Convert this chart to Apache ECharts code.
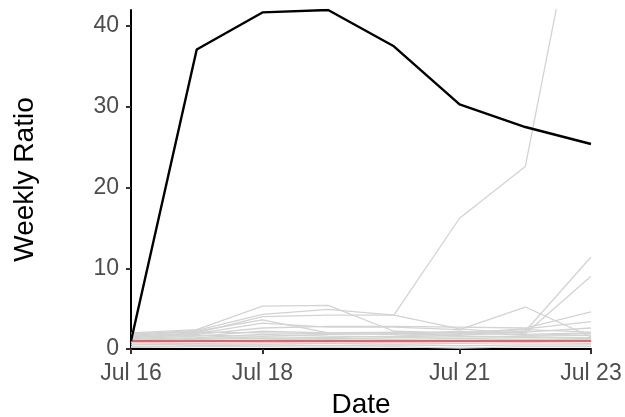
<!DOCTYPE html>
<html>
<head>
<meta charset="utf-8">
<script src="https://cdn.jsdelivr.net/npm/echarts@6/dist/echarts.min.js"></script>
<style>
  html, body { margin: 0; padding: 0; background: #fff; }
  #chart { width: 625px; height: 417px; }
</style>
</head>
<body>
<div id="chart"></div>
<script>
// dates on the x axis (one point per day)
var dates = ['Jul 16', 'Jul 17', 'Jul 18', 'Jul 19', 'Jul 20', 'Jul 21', 'Jul 22', 'Jul 23']
var shownDates = [0, 2, 5, 7]
var yTicks = [0, 10, 20, 30, 40]
var threshold = 1

// highlighted series
var mainValues = [1.0, 37.1, 41.7, 42.0, 37.5, 30.3, 27.5, 25.4]

// background series (light grey)
var grey1 = [1.8, 2.3, 4.3, 4.9, 4.2, 16.2, 22.6, 64.0]
var grey2 = [2.0, 2.4, 5.3, 5.4, 2.2, 2.0, 2.4, 2.1]
var grey3 = [1.7, 2.2, 3.6, 2.0, 2.0, 1.8, 2.2, 11.4]
var grey4 = [1.6, 2.0, 4.0, 4.2, 4.2, 2.5, 1.9, 9.0]
var grey5 = [1.5, 1.9, 3.2, 2.7, 2.7, 2.4, 5.2, 1.5]
var grey6 = [1.4, 1.8, 2.6, 2.8, 2.8, 2.7, 2.6, 4.6]
var grey7 = [1.3, 1.6, 2.2, 2.0, 2.1, 2.0, 2.5, 3.4]
var grey8 = [1.2, 1.4, 1.8, 1.6, 1.5, 1.7, 2.1, 2.6]
var grey9 = [1.1, 1.3, 1.5, 1.4, 1.6, 1.9, 1.8, 2.0]
var grey10 = [1.0, 1.2, 1.3, 1.2, 1.4, 1.5, 1.6, 1.7]
var grey11 = [0.9, 1.0, 1.1, 1.3, 1.2, 1.3, 1.4, 1.4]
var grey12 = [0.8, 0.9, 1.0, 1.0, 1.0, 1.1, 1.2, 1.2]
var grey13 = [0.6, 0.7, 0.8, 0.9, 0.8, 0.9, 1.0, 1.0]
var grey14 = [0.5, 0.6, 0.6, 0.7, 0.6, 0.7, 0.8, 0.7]
var grey15 = [0.3, 0.4, 0.5, 0.4, 0.5, 0.4, 0.5, 0.5]
var grey16 = [0.2, 0.3, 0.3, 0.2, 0.3, 0.1, 0.3, 0.3]
var grey17 = [1.9, 2.1, 2.0, 1.9, 1.8, 2.2, 1.7, 1.9]
var grey18 = [1.5, 1.7, 1.6, 1.8, 1.9, 1.6, 1.5, 1.3]

var greyList = [grey1, grey2, grey3, grey4, grey5, grey6, grey7, grey8, grey9,
  grey10, grey11, grey12, grey13, grey14, grey15, grey16, grey17, grey18]

var series = greyList.map(function (d) {
  return {
    type: 'line',
    data: d,
    symbol: 'none',
    silent: true,
    lineStyle: { color: '#d3d3d3', width: 1.3 },
    z: 2
  }
})

// reference line at 1
series.push({
  type: 'line',
  data: dates.map(function () { return threshold }),
  symbol: 'none',
  silent: true,
  lineStyle: { color: '#ee3b3b', width: 1.5 },
  z: 3
})

series.push({
  type: 'line',
  data: mainValues,
  symbol: 'none',
  lineStyle: { color: '#000', width: 2.4 },
  z: 4
})

var myChart = echarts.init(document.getElementById('chart'))

var option = {
  animation: false,
  grid: { left: 131, right: 34, top: 10, bottom: 68, outerBoundsMode: 'none' },
  xAxis: {
    type: 'category',
    data: dates,
    boundaryGap: false,
    name: 'Date',
    nameLocation: 'middle',
    nameGap: 42,
    nameTextStyle: { color: '#000', fontSize: 28, fontFamily: 'Liberation Sans' },
    axisLine: { lineStyle: { color: '#000', width: 2 } },
    axisTick: {
      length: 5,
      interval: function (i) { return shownDates.indexOf(i) >= 0 },
      lineStyle: { color: '#333', width: 2 }
    },
    axisLabel: {
      interval: function (i) { return shownDates.indexOf(i) >= 0 },
      color: '#4d4d4d',
      fontSize: 23,
      fontFamily: 'Liberation Sans',
      margin: 13
    },
    splitLine: { show: false }
  },
  yAxis: {
    type: 'value',
    min: 0,
    max: 42,
    name: 'Weekly Ratio',
    nameLocation: 'middle',
    nameGap: 92,
    nameTextStyle: { color: '#000', fontSize: 28, fontFamily: 'Liberation Sans' },
    axisLine: { show: true, lineStyle: { color: '#000', width: 2 } },
    axisTick: {
      show: true,
      length: 5,
      customValues: yTicks,
      lineStyle: { color: '#333', width: 2 }
    },
    axisLabel: {
      customValues: yTicks,
      color: '#4d4d4d',
      fontSize: 23,
      fontFamily: 'Liberation Sans',
      margin: 12
    },
    splitLine: { show: false }
  },
  series: series
}

myChart.setOption(option)
window.addEventListener('resize', function () {
  myChart.resize()
})
</script>
</body>
</html>
